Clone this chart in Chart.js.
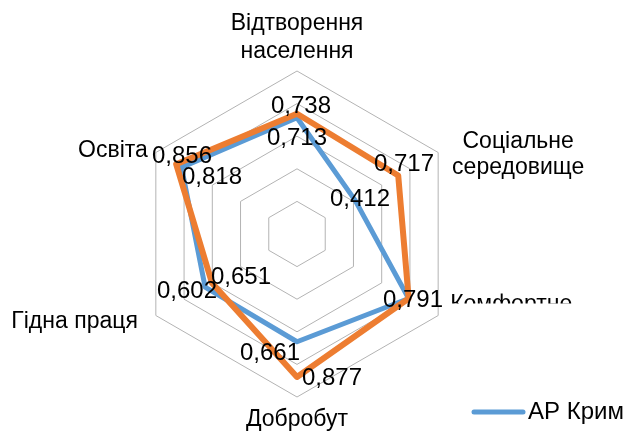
<!DOCTYPE html>
<html>
<head>
<meta charset="utf-8">
<script src="https://cdn.jsdelivr.net/npm/chart.js@4.4.1/dist/chart.umd.min.js"></script>
<style>
  html, body { margin: 0; padding: 0; background: #fff; }
  #wrap { width: 630px; height: 436px; position: relative; }
</style>
</head>
<body>
<div id="wrap"><canvas id="c" width="630" height="436"></canvas></div>
<script>
// ---- data ----
const categories = [
  ['Відтворення', 'населення'],
  ['Соціальне', 'середовище'],
  ['Комфортне', 'середовище'],
  ['Добробут'],
  ['Гідна праця'],
  ['Освіта']
];
const seriesNames = ['Україна', 'АР Крим'];
const ukraineValues = [0.738, 0.717, 0.791, 0.877, 0.602, 0.856];
const crimeaValues  = [0.713, 0.412, 0.791, 0.661, 0.651, 0.818];
const scaleTicks = [0, 0.2, 0.4, 0.6, 0.8, 1.0];

// ---- styles ----
const FONT = '"Liberation Sans", Arial, sans-serif';
const ORANGE = '#ED7D31';
const BLUE = '#5B9BD5';
// category label placement relative to outer vertex
const catStyle = [
  { align: 'center', dx: 0,   dy: -41, lh: 28 },
  { align: 'center', dx: 80,  dy: -5,  lh: 26 },
  { align: 'left',   dx: 12,  dy: -5,  lh: 26, clip: -12 },
  { align: 'center', dx: 0,   dy: 29,  lh: 26 },
  { align: 'right',  dx: -18, dy: 12,  lh: 26 },
  { align: 'right',  dx: -8,  dy: 4,   lh: 26 }
];
// data label offsets from point, per dataset
const labelOffsets = [
  [[4, -8], [6, -12], [4, 2], [35, 1], [-25, 8], [6, -8]],
  [[0, 20], [5, -1], [4, 2], [-27, 11], [36, -10], [30, 10]]
];

const labelPlugin = {
  id: 'customLabels',
  afterDatasetsDraw(chart) {
    const ctx = chart.ctx;
    ctx.save();
    ctx.fillStyle = '#000';
    ctx.font = '24px ' + FONT;
    ctx.textAlign = 'center';
    ctx.textBaseline = 'middle';
    const drawn = new Set();
    chart.data.datasets.forEach((ds, di) => {
      const meta = chart.getDatasetMeta(di);
      meta.data.forEach((el, i) => {
        const off = labelOffsets[di][i];
        const txt = ds.data[i].toFixed(3).replace('.', ',');
        const x = Math.round(el.x + off[0]), y = Math.round(el.y + off[1]);
        const key = txt + '@' + x + ',' + y;
        if (drawn.has(key)) return;
        drawn.add(key);
        ctx.fillText(txt, x, y);
      });
    });
    ctx.restore();
  },
  afterDraw(chart) {
    const ctx = chart.ctx;
    const r = chart.scales.r;
    ctx.save();
    ctx.fillStyle = '#000';
    ctx.font = '23px ' + FONT;
    ctx.textBaseline = 'alphabetic';
    categories.forEach((lines, i) => {
      const p = r.getPointPositionForValue(i, r.max);
      const s = catStyle[i];
      ctx.save();
      if (s.clip !== undefined) {
        ctx.beginPath();
        ctx.rect(0, 0, chart.width, p.y + s.clip);
        ctx.clip();
      }
      ctx.textAlign = s.align;
      lines.forEach((ln, k) => ctx.fillText(ln, p.x + s.dx, p.y + s.dy + k * s.lh));
      ctx.restore();
    });
    // legend (only the visible entry)
    const ds = chart.data.datasets[1];
    ctx.strokeStyle = ds.borderColor;
    ctx.lineWidth = 5;
    ctx.lineCap = 'round';
    ctx.beginPath();
    ctx.moveTo(474, 412);
    ctx.lineTo(523, 412);
    ctx.stroke();
    ctx.font = '24px ' + FONT;
    ctx.textAlign = 'left';
    ctx.textBaseline = 'middle';
    ctx.fillText(ds.label, 528, 412);
    ctx.restore();
  }
};

new Chart(document.getElementById('c'), {
  type: 'radar',
  data: {
    labels: categories,
    datasets: [
      { label: seriesNames[0], data: ukraineValues, borderColor: ORANGE, backgroundColor: ORANGE,
        borderWidth: 6, fill: false, pointRadius: 0, pointHoverRadius: 0, borderJoinStyle: 'round', tension: 0 },
      { label: seriesNames[1], data: crimeaValues, borderColor: BLUE, backgroundColor: BLUE,
        borderWidth: 5, fill: false, pointRadius: 0, pointHoverRadius: 0, borderJoinStyle: 'round', tension: 0 }
    ]
  },
  options: {
    responsive: false,
    animation: false,
    layout: { padding: { left: 134, top: 71, right: 170, bottom: 39 } },
    plugins: { legend: { display: false }, tooltip: { enabled: false } },
    scales: {
      r: {
        min: scaleTicks[0],
        max: scaleTicks[scaleTicks.length - 1],
        ticks: { display: false, stepSize: scaleTicks[1] - scaleTicks[0] },
        grid: { color: '#B3B3B3', lineWidth: 1 },
        angleLines: { display: false },
        pointLabels: { display: false }
      }
    }
  },
  plugins: [labelPlugin]
});
</script>
</body>
</html>
